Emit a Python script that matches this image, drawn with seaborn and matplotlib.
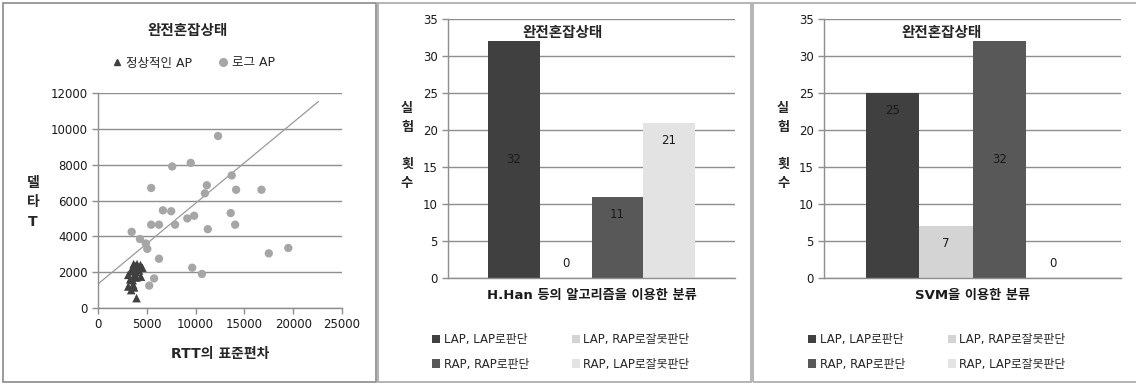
import matplotlib
matplotlib.use("Agg")
import matplotlib.pyplot as plt
import numpy as np
import pandas as pd
import seaborn as sns
from matplotlib.lines import Line2D
from matplotlib.patches import Patch, Rectangle

# ---- scatter data: RTT standard deviation vs. delta T ----
normal_x = [3950, 3100, 3400, 3700, 3600, 3300, 3550, 3100, 3750, 4400, 3900,
            4200, 3500, 3800, 4000, 4350, 4550, 3650, 4100, 3950, 3400]
normal_y = [550, 1200, 1000, 1150, 1300, 1600, 1550, 1850, 1850, 1750, 2000,
            2100, 2200, 2350, 2450, 2400, 2250, 2450, 2300, 1700, 2050]
rogue_x = [12300, 9500, 7600, 13700, 5450, 11150, 10950, 14150, 16750, 6650,
           7500, 13600, 9850, 9150, 5450, 6250, 7900, 14050, 11250, 3450,
           4300, 4900, 5050, 19500, 17500, 6250, 9650, 10650, 5750, 5250]
rogue_y = [9600, 8100, 7900, 7400, 6700, 6850, 6400, 6600, 6600, 5450,
           5400, 5300, 5150, 5000, 4650, 4650, 4650, 4650, 4400, 4250,
           3850, 3600, 3300, 3350, 3050, 2750, 2250, 1900, 1650, 1250]
trend_x = [0, 22600]
trend_y = [1340, 11530]

# ---- bar data: classification results ----
classes = ["LAP, LAP로판단", "LAP, RAP로잘못판단", "RAP, RAP로판단", "RAP, LAP로잘못판단"]
han_counts = [32, 0, 11, 21]
svm_counts = [25, 7, 32, 0]
han_category = "H.Han 등의 알고리즘을 이용한 분류"
svm_category = "SVM을 이용한 분류"
chart_title = "완전혼잡상태"
normal_label = "정상적인 AP"
rogue_label = "로그 AP"

bar_colors = ["#404040", "#d4d4d4", "#585858", "#e3e3e3"]
GRID = "#8e8e8e"

sns.set_theme(style="white")
plt.rcParams["font.family"] = ["DejaVu Sans", "Noto Sans CJK KR"]

W, H = 1136, 384
fig = plt.figure(figsize=(W / 100, H / 100), dpi=100)


def fx(px):
    return px / W


def fy(py):
    return 1 - py / H


def axes_px(left, top, right, bottom):
    return fig.add_axes([fx(left), fy(bottom), (right - left) / W, (bottom - top) / H])


def style_axes(ax):
    for side in ("top", "right"):
        ax.spines[side].set_visible(False)
    for side in ("left", "bottom"):
        ax.spines[side].set_color(GRID)
        ax.spines[side].set_linewidth(1)
    ax.yaxis.grid(True, color=GRID, lw=1)
    ax.xaxis.grid(False)
    ax.set_axisbelow(True)
    ax.tick_params(axis="both", colors=GRID, labelcolor="#1a1a1a",
                   length=4, width=1, labelsize=8.5, direction="out",
                   left=True, bottom=True)


# panel frames
frame_specs = [(3, 376, "#8a8a8a"), (378, 751, "#a8a8a8"), (753, 1140, "#a8a8a8")]
for x0, x1, ec in frame_specs:
    fig.add_artist(Rectangle((fx(x0), fy(382)), (x1 - x0) / W, 379 / H,
                             transform=fig.transFigure, fill=False,
                             edgecolor=ec, lw=1.2))

# ---- panel 1: scatter ----
ax1 = axes_px(98, 93, 342, 308)
style_axes(ax1)
sns.scatterplot(x=rogue_x, y=rogue_y, marker="o", color="#a6a6a6", s=36,
                edgecolor="none", ax=ax1, label=rogue_label, zorder=3)
sns.scatterplot(x=normal_x, y=normal_y, marker="^", color="#404040", s=38,
                edgecolor="none", ax=ax1, label=normal_label, zorder=4)
sns.lineplot(x=trend_x, y=trend_y, color="#9a9a9a", lw=0.9, ax=ax1, zorder=2)
ax1.set_xlim(0, 25000)
ax1.set_ylim(0, 12000)
ax1.set_xticks(range(0, 25001, 5000))
ax1.set_yticks(range(0, 12001, 2000))
ax1.set_xlabel("RTT의 표준편차", fontsize=10, fontweight="bold", va="center")
ax1.xaxis.set_label_coords(0.5, (308 - 354) / 215)
ax1.set_ylabel("델\n타\nT", rotation=0, fontsize=10, fontweight="bold",
               va="center", ha="center", linespacing=1.5)
ax1.yaxis.set_label_coords((33 - 98) / 244, (308 - 202) / 215)
handles = [Line2D([], [], marker="^", ls="", color="#404040", markersize=5),
           Line2D([], [], marker="o", ls="", color="#a6a6a6", markersize=5.5)]
ax1.legend(handles, [normal_label, rogue_label], ncol=2, loc="center",
           bbox_to_anchor=(fx(193), fy(63)), bbox_transform=fig.transFigure,
           frameon=False, handletextpad=0.2, columnspacing=2.0,
           handlelength=1.0, fontsize=9)
fig.text(fx(188), fy(30), chart_title, ha="center", va="center",
         fontsize=10.5, fontweight="bold")


# ---- panels 2 and 3: grouped bars ----
def bar_panel(left, right, counts, category, label_modes, title_x):
    ax = axes_px(left, 19, right, 278)
    style_axes(ax)
    df = pd.DataFrame({"분류": [category] * len(classes),
                       "결과": classes, "횟수": counts})
    sns.barplot(data=df, x="분류", y="횟수", hue="결과", hue_order=classes,
                palette=bar_colors, width=0.72, saturation=1, linewidth=0,
                ax=ax, legend=False)
    ax.set_ylim(0, 35)
    ax.set_yticks(range(0, 36, 5))
    ax.tick_params(axis="x", length=0, labelsize=9.5, labelcolor="#1a1a1a", pad=8)
    for lab in ax.get_xticklabels():
        lab.set_fontweight("bold")
    ax.set_xlabel("")
    ax.set_ylabel("실\n험\n\n횟\n수", rotation=0, fontsize=9.5,
                  fontweight="bold", va="center", ha="center", linespacing=1.58)
    ax.yaxis.set_label_coords(-41 / (right - left), (278 - 146) / 259)

    for container, value, mode in zip(ax.containers, counts, label_modes):
        bar = container.patches[0]
        cx = bar.get_x() + bar.get_width() / 2
        if mode == "center":
            ly = value / 2
        elif mode == "end":
            ly = value - 2.4
        else:
            ly = 2.0
        ax.text(cx, ly, f"{value}", ha="center", va="center",
                fontsize=8.5, color="#1a1a1a")

    fig.text(fx(title_x), fy(32), chart_title, ha="center", va="center",
             fontsize=10.5, fontweight="bold")

    order = [0, 2, 1, 3]
    patches = [Patch(facecolor=bar_colors[i], edgecolor="none") for i in order]
    ax.legend(patches, [classes[i] for i in order], ncol=2, loc="upper left",
              bbox_to_anchor=(fx(left - 22), fy(327)),
              bbox_transform=fig.transFigure, frameon=False, fontsize=8.5,
              handlelength=0.7, handleheight=0.7, handletextpad=0.3,
              columnspacing=3.6, labelspacing=1.0, borderpad=0)
    return ax


bar_panel(448, 735, han_counts, han_category,
          ["center", "base", "end", "end"], 563)
bar_panel(824, 1121, svm_counts, svm_category,
          ["end", "end", "center", "base"], 942)

fig.savefig("out.png", dpi=100)
